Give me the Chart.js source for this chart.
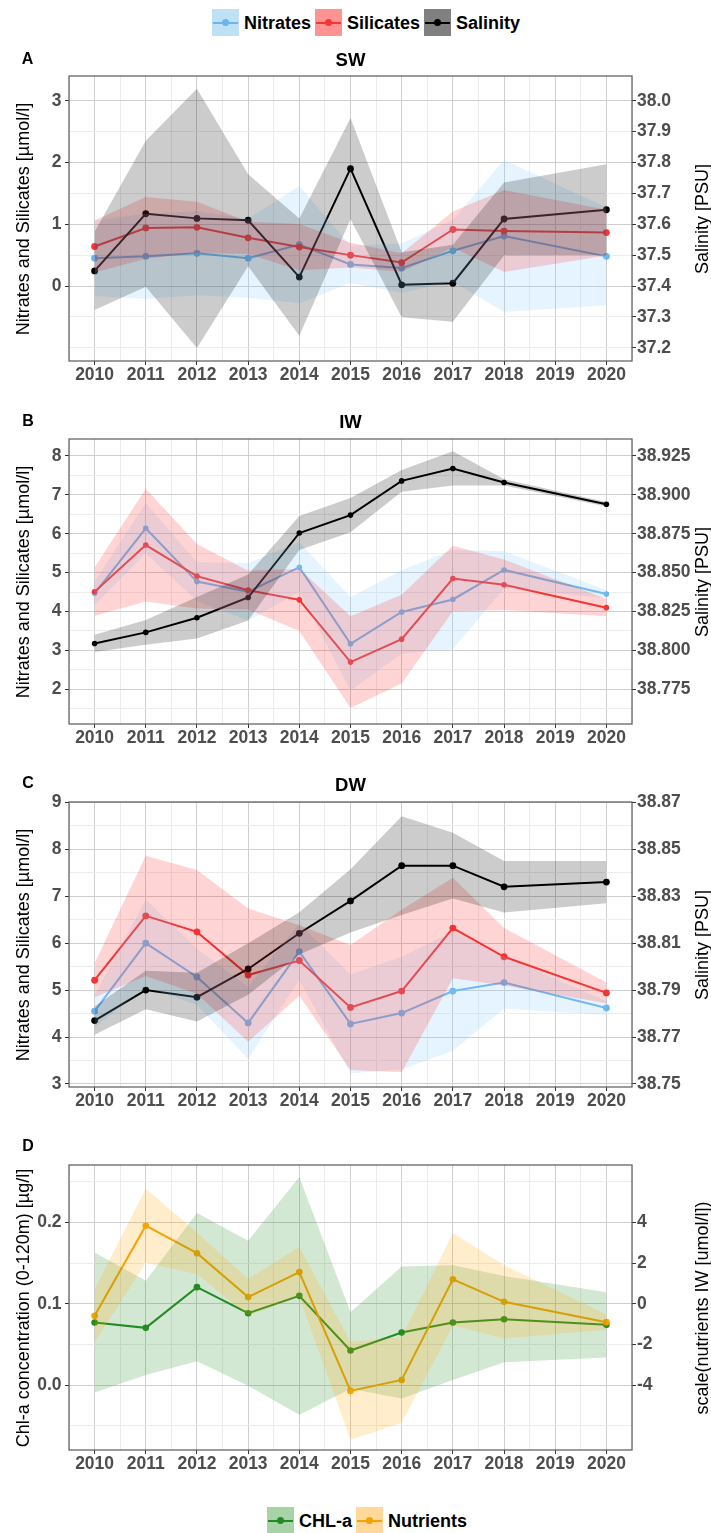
<!DOCTYPE html>
<html>
<head>
<meta charset="utf-8">
<title>Nutrients, salinity and chlorophyll-a, 2010–2020</title>
<script src="https://cdn.jsdelivr.net/npm/chart.js@4.4.1/dist/chart.umd.min.js"></script>
<style>
  html, body { margin: 0; padding: 0; background: #fff; }
  body { position: relative; width: 711px; height: 1533px; overflow: hidden;
         font-family: "Liberation Sans", Arial, Helvetica, sans-serif; color: #000; }
  canvas { position: absolute; left: 0; }
  .lbl { position: absolute; white-space: nowrap; line-height: 1; transform: translate(-50%, -50%); }
  .rot { transform: translate(-50%, -50%) rotate(-90deg); }
  .letter { font-size: 16px; font-weight: bold; }
  .title { font-size: 18.5px; font-weight: bold; }
  .axt { font-size: 18px; }
  .legend { position: absolute; display: flex; align-items: center; font-size: 18px; font-weight: bold; line-height: 1; }
  .item { display: flex; align-items: center; margin-right: 4px; }
  .key { position: relative; width: 27px; height: 27px; margin-right: 5px; }
  .key i { position: absolute; left: 1px; right: 1px; top: 12.5px; height: 2px; }
  .key b { position: absolute; left: 10px; top: 10px; width: 7px; height: 7px; border-radius: 50%; }
</style>
</head>
<body>
<canvas id="panelA" width="711" height="340" style="top:51px"></canvas>
<canvas id="panelB" width="711" height="340" style="top:414px"></canvas>
<canvas id="panelC" width="711" height="340" style="top:777px"></canvas>
<canvas id="panelD" width="711" height="340" style="top:1140px"></canvas>

<div class="legend" id="legendTop" style="left:212px;top:9px"></div>
<div class="legend" id="legendBottom" style="left:267px;top:1507px"></div>

<div class="lbl letter" style="left:27.5px;top:58.5px">A</div>
<div class="lbl title" style="left:350.5px;top:60px">SW</div>
<div class="lbl axt rot" style="left:22.5px;top:218.5px">Nitrates and Silicates [µmol/l]</div>
<div class="lbl axt rot" style="left:702px;top:218.5px">Salinity [PSU]</div>

<div class="lbl letter" style="left:28px;top:420.5px">B</div>
<div class="lbl title" style="left:350.5px;top:422px">IW</div>
<div class="lbl axt rot" style="left:22.5px;top:581.5px">Nitrates and Silicates [µmol/l]</div>
<div class="lbl axt rot" style="left:702px;top:581.5px">Salinity [PSU]</div>

<div class="lbl letter" style="left:28px;top:783px">C</div>
<div class="lbl title" style="left:350.5px;top:785px">DW</div>
<div class="lbl axt rot" style="left:22.5px;top:944.5px">Nitrates and Silicates [µmol/l]</div>
<div class="lbl axt rot" style="left:702px;top:944.5px">Salinity [PSU]</div>

<div class="lbl letter" style="left:28px;top:1145.5px">D</div>
<div class="lbl axt rot" style="left:22.5px;top:1307.5px">Chl-a concentration (0-120m) [µg/l]</div>
<div class="lbl axt rot" style="left:702px;top:1307.5px">scale(nutrients IW [umol/l])</div>

<script>
// ---------------- data ----------------
const years = [2010, 2011, 2012, 2013, 2014, 2015, 2016, 2017, 2018, 2020];
const yearTicks = [2010, 2011, 2012, 2013, 2014, 2015, 2016, 2017, 2018, 2019, 2020];

// SW: surface water (means and ± band half-widths)
const swNitrates      = [0.45, 0.48, 0.53, 0.45, 0.67, 0.35, 0.29, 0.57, 0.81, 0.48];
const swNitratesBand  = [0.61, 0.69, 0.68, 0.64, 0.95, 0.30, 0.40, 0.50, 1.23, 0.79];
const swSilicates     = [0.64, 0.94, 0.95, 0.78, 0.63, 0.50, 0.38, 0.915, 0.89, 0.865];
const swSilicatesBand = [0.42, 0.50, 0.415, 0.26, 0.375, 0.20, 0.15, 0.29, 0.665, 0.37];
const swSalinity      = [37.449, 37.634, 37.619, 37.613, 37.429, 37.780, 37.404, 37.409, 37.617, 37.647];
const swSalinityBand  = [0.127, 0.236, 0.42, 0.149, 0.19, 0.164, 0.105, 0.125, 0.118, 0.147];
const swLeftTicks  = [0, 1, 2, 3];
const swRightTicks = [37.2, 37.3, 37.4, 37.5, 37.6, 37.7, 37.8, 37.9, 38.0];

// IW: intermediate water
const iwNitrates      = [4.47, 6.14, 4.77, 4.51, 5.14, 3.17, 3.99, 4.31, 5.07, 4.45];
const iwNitratesBand  = [0.30, 0.65, 0.50, 0.74, 0.64, 1.20, 1.07, 1.28, 0.48, 0.10];
const iwSilicates     = [4.51, 5.71, 4.91, 4.55, 4.30, 2.70, 3.29, 4.85, 4.69, 4.10];
const iwSilicatesBand = [0.62, 1.45, 0.83, 0.50, 0.80, 1.18, 1.14, 0.84, 0.65, 0.22];
const iwSalinity      = [38.8045, 38.8116, 38.821, 38.834, 38.8755, 38.887, 38.909, 38.917, 38.908, 38.894];
const iwSalinityBand  = [0.0055, 0.008, 0.0133, 0.0148, 0.011, 0.011, 0.007, 0.011, 0.002, 0.0015];
const iwLeftTicks  = [2, 3, 4, 5, 6, 7, 8];
const iwRightTicks = [38.775, 38.8, 38.825, 38.85, 38.875, 38.9, 38.925];

// DW: deep water
const dwNitrates      = [4.55, 6.00, 5.28, 4.30, 5.82, 4.28, 4.51, 4.98, 5.16, 4.62];
const dwNitratesBand  = [0.34, 0.93, 0.60, 0.77, 0.60, 1.05, 1.20, 1.27, 0.55, 0.15];
const dwSilicates     = [5.21, 6.58, 6.24, 5.32, 5.63, 4.63, 4.98, 6.32, 5.71, 4.94];
const dwSilicatesBand = [0.36, 1.28, 1.32, 1.42, 0.75, 1.33, 1.73, 1.07, 0.61, 0.22];
const dwSalinity      = [38.777, 38.790, 38.787, 38.799, 38.8142, 38.828, 38.843, 38.843, 38.834, 38.836];
const dwSalinityBand  = [0.006, 0.0082, 0.0104, 0.011, 0.009, 0.0135, 0.021, 0.014, 0.011, 0.009];
const dwLeftTicks  = [3, 4, 5, 6, 7, 8, 9];
const dwRightTicks = [38.75, 38.77, 38.79, 38.81, 38.83, 38.85, 38.87];

// Chlorophyll-a and scaled IW nutrients
const chla          = [0.077, 0.0705, 0.1205, 0.0885, 0.1098, 0.0426, 0.0648, 0.077, 0.0811, 0.0742];
const chlaBand      = [0.086, 0.058, 0.091, 0.089, 0.146, 0.047, 0.081, 0.0705, 0.053, 0.04];
const nutrients     = [-0.59, 3.84, 2.49, 0.33, 1.56, -4.28, -3.74, 1.21, 0.10, -0.90];
const nutrientsBand = [1.31, 1.82, 1.02, 0.90, 1.23, 2.40, 2.10, 2.27, 1.80, 0.37];
const chlLeftTicks  = [0, 0.1, 0.2];
const chlRightTicks = [-4, -2, 0, 2, 4];

// ---------------- styling ----------------
const FONT = "'Liberation Sans', Arial, Helvetica, sans-serif";
Chart.defaults.font.family = FONT;

const STYLE = {
  nitrates:  { name: 'Nitrates',  line: '#6cb4ee', band: 'rgba(135,206,250,0.22)', key: '#bfe1f6' },
  silicates: { name: 'Silicates', line: '#f33636', band: 'rgba(255,40,40,0.2)',    key: '#ff9393' },
  salinity:  { name: 'Salinity',  line: '#000000', band: 'rgba(0,0,0,0.2)',        key: '#808080' },
  chla:      { name: 'CHL-a',     line: '#228b22', band: 'rgba(34,139,34,0.2)',    key: '#a7d3a7' },
  nutrients: { name: 'Nutrients', line: '#f5a300', band: 'rgba(255,165,0,0.2)',    key: '#ffd89a' }
};

const X_MIN = 2009.5, X_MAX = 2020.5;
const PAD_TOP = 25, AXIS_H = 30, LEFT_W = 69, RIGHT_W = 79;
const MAJOR_GRID = '#cfcfcf', MINOR_GRID = '#ececec', TICK_MARK = '#333333', TICK_TEXT = '#4d4d4d';
const tickFont = { family: FONT, size: 17.5, weight: 'bold', lineHeight: 1 };

const inList = (list, v) => list.some(l => Math.abs(l - v) < 1e-6);

// labelled breaks plus the half-step lines between them that fall inside the axis range
function gridValues(labelled, lo, hi) {
  const half = (labelled[1] - labelled[0]) / 2;
  const out = [];
  const k0 = Math.floor((lo - labelled[0]) / half), k1 = Math.ceil((hi - labelled[0]) / half);
  for (let k = k0; k <= k1; k++) {
    const v = +(labelled[0] + k * half).toFixed(6);
    if (v >= lo - 1e-9 && v <= hi + 1e-9) out.push(v);
  }
  return out;
}

// one mean line with points, and a ribbon made of a lower and an upper dataset
function series(values, spread, style, axis, lineOrder, bandOrder, radius) {
  const line = {
    label: style.name, yAxisID: axis, order: lineOrder,
    data: years.map((x, i) => ({ x, y: values[i] })),
    borderColor: style.line, backgroundColor: style.line, borderWidth: 2,
    pointRadius: radius, pointBackgroundColor: style.line, pointBorderWidth: 0,
    tension: 0, fill: false
  };
  const lower = {
    label: style.name + ' low', yAxisID: axis, order: bandOrder,
    data: years.map((x, i) => ({ x, y: values[i] - spread[i] })),
    borderWidth: 0, borderColor: 'rgba(0,0,0,0)', pointRadius: 0, tension: 0, fill: false
  };
  const upper = {
    label: style.name + ' high', yAxisID: axis, order: bandOrder,
    data: years.map((x, i) => ({ x, y: values[i] + spread[i] })),
    borderWidth: 0, borderColor: 'rgba(0,0,0,0)', pointRadius: 0, tension: 0,
    fill: '-1', backgroundColor: style.band
  };
  return { line, band: [lower, upper] };
}

// panel border on top of the data
const framePlugin = {
  id: 'frame',
  afterDatasetsDraw(chart) {
    const { ctx, chartArea: a } = chart;
    ctx.save();
    ctx.strokeStyle = '#595959';
    ctx.lineWidth = 1.2;
    ctx.strokeRect(a.left, a.top, a.right - a.left, a.bottom - a.top);
    ctx.restore();
  }
};

function drawPanel(id, cfg) {
  const xGrid = gridValues(yearTicks, X_MIN, X_MAX);
  const yGrid = gridValues(cfg.leftTicks, cfg.yMin, cfg.yMax);
  new Chart(document.getElementById(id), {
    type: 'line',
    data: { datasets: cfg.datasets },
    options: {
      responsive: false, animation: false, devicePixelRatio: 1, events: [],
      layout: { padding: { top: PAD_TOP, left: 0, right: 0, bottom: 0 } },
      plugins: {
        legend: { display: false }, tooltip: { enabled: false },
        filler: { drawTime: 'beforeDatasetDraw', propagate: false }
      },
      scales: {
        x: {
          type: 'linear', min: X_MIN, max: X_MAX,
          afterBuildTicks: s => { s.ticks = xGrid.map(v => ({ value: v })); },
          afterFit: s => { s.height = AXIS_H; },
          border: { display: false },
          grid: {
            color: c => (c.tick && inList(yearTicks, c.tick.value)) ? MAJOR_GRID : MINOR_GRID,
            lineWidth: 1, drawTicks: true, tickLength: 4,
            tickColor: c => (c.tick && inList(yearTicks, c.tick.value)) ? TICK_MARK : 'rgba(0,0,0,0)'
          },
          ticks: {
            autoSkip: false, maxRotation: 0, minRotation: 0, padding: 1,
            color: TICK_TEXT, font: tickFont,
            callback: v => inList(yearTicks, v) ? String(v) : ''
          }
        },
        y: {
          type: 'linear', position: 'left', min: cfg.yMin, max: cfg.yMax,
          afterBuildTicks: s => { s.ticks = yGrid.map(v => ({ value: v })); },
          afterFit: s => { s.width = LEFT_W; },
          border: { display: false },
          grid: {
            color: c => (c.tick && inList(cfg.leftTicks, c.tick.value)) ? MAJOR_GRID : MINOR_GRID,
            lineWidth: 1, drawTicks: true, tickLength: 4,
            tickColor: c => (c.tick && inList(cfg.leftTicks, c.tick.value)) ? TICK_MARK : 'rgba(0,0,0,0)'
          },
          ticks: {
            autoSkip: false, padding: 3.5, color: TICK_TEXT, font: tickFont,
            callback: v => inList(cfg.leftTicks, v) ? cfg.leftFmt(v) : ''
          }
        },
        y2: {
          type: 'linear', position: 'right',
          min: cfg.toRight(cfg.yMin), max: cfg.toRight(cfg.yMax),
          afterBuildTicks: s => { s.ticks = cfg.rightTicks.map(v => ({ value: v })); },
          afterFit: s => { s.width = RIGHT_W; },
          border: { display: false },
          grid: { drawOnChartArea: false, drawTicks: true, tickLength: 4, tickColor: TICK_MARK },
          ticks: {
            autoSkip: false, padding: 1, color: TICK_TEXT, font: tickFont,
            callback: v => cfg.rightFmt(v)
          }
        }
      }
    },
    plugins: [framePlugin]
  });
}

// water-mass panel: nitrates and silicates on the left axis, salinity on the right
function waterPanel(id, nit, nitB, sil, silB, sal, salB, radius, cfg) {
  const n = series(nit, nitB, STYLE.nitrates, 'y', 16, 3, radius);
  const s = series(sil, silB, STYLE.silicates, 'y', 15, 2, radius);
  const p = series(sal, salB, STYLE.salinity, 'y2', 14, 1, radius);
  cfg.datasets = [n.line, s.line, p.line, ...n.band, ...s.band, ...p.band];
  drawPanel(id, cfg);
}

waterPanel('panelA', swNitrates, swNitratesBand, swSilicates, swSilicatesBand, swSalinity, swSalinityBand, 3.4, {
  yMin: -1.214, yMax: 3.40, leftTicks: swLeftTicks, leftFmt: v => String(v),
  rightTicks: swRightTicks, rightFmt: v => v.toFixed(1), toRight: v => 37.4 + v / 5
});
waterPanel('panelB', iwNitrates, iwNitratesBand, iwSilicates, iwSilicatesBand, iwSalinity, iwSalinityBand, 2.8, {
  yMin: 1.108, yMax: 8.437, leftTicks: iwLeftTicks, leftFmt: v => String(v),
  rightTicks: iwRightTicks, rightFmt: v => v.toFixed(3), toRight: v => 38.775 + (v - 2) * 0.025
});
waterPanel('panelC', dwNitrates, dwNitratesBand, dwSilicates, dwSilicatesBand, dwSalinity, dwSalinityBand, 3.4, {
  yMin: 2.936, yMax: 9.006, leftTicks: dwLeftTicks, leftFmt: v => String(v),
  rightTicks: dwRightTicks, rightFmt: v => v.toFixed(2), toRight: v => 38.75 + (v - 3) * 0.02
});

(function () {
  const c = series(chla, chlaBand, STYLE.chla, 'y', 16, 3, 3.3);
  const n = series(nutrients, nutrientsBand, STYLE.nutrients, 'y2', 15, 2, 3.3);
  drawPanel('panelD', {
    datasets: [n.line, c.line, ...c.band, ...n.band],
    yMin: -0.0796, yMax: 0.2706, leftTicks: chlLeftTicks, leftFmt: v => v.toFixed(1),
    rightTicks: chlRightTicks, rightFmt: v => String(v), toRight: v => (v - 0.1) * 40
  });
})();

// ---------------- legends ----------------
function legend(id, keys) {
  const box = document.getElementById(id);
  keys.forEach(k => {
    const st = STYLE[k];
    const item = document.createElement('div');
    item.className = 'item';
    item.innerHTML = '<div class="key" style="background:' + st.key + '">' +
      '<i style="background:' + st.line + '"></i><b style="background:' + st.line + '"></b></div>' +
      '<span>' + st.name + '</span>';
    box.appendChild(item);
  });
}
legend('legendTop', ['nitrates', 'silicates', 'salinity']);
legend('legendBottom', ['chla', 'nutrients']);
</script>
</body>
</html>
